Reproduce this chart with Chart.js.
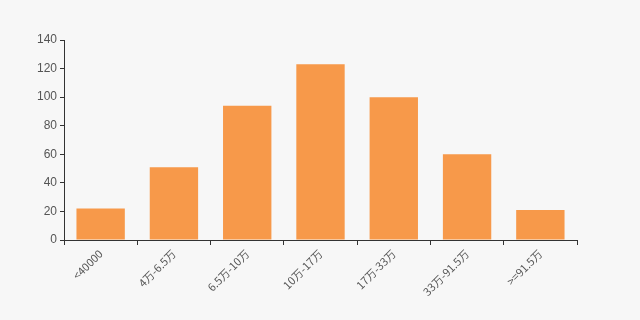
<!DOCTYPE html>
<html>
<head>
<meta charset="utf-8">
<script src="https://cdn.jsdelivr.net/npm/chart.js@4/dist/chart.umd.min.js"></script>
<style>
  html, body { margin: 0; padding: 0; background: #f7f7f7; }
  #wrap { width: 640px; height: 320px; }
</style>
</head>
<body>
<div id="wrap"><canvas id="c" width="640" height="320"></canvas></div>
<script>
// 收入区间分布
const categories = ['<40000', '4万-6.5万', '6.5万-10万', '10万-17万', '17万-33万', '33万-91.5万', '>=91.5万'];
const counts = [22, 51, 94, 123, 100, 60, 21];
const yTicks = [0, 20, 40, 60, 80, 100, 120, 140];

const bgPlugin = {
    id: 'bg',
    beforeDraw(chart) {
        const ctx = chart.ctx;
        ctx.save();
        ctx.fillStyle = '#f7f7f7';
        ctx.fillRect(0, 0, chart.width, chart.height);
        ctx.restore();
    }
};

new Chart(document.getElementById('c'), {
    type: 'bar',
    data: {
        labels: categories,
        datasets: [{
            data: counts,
            backgroundColor: '#f7994a',
            barPercentage: 0.66,
            categoryPercentage: 1
        }]
    },
    options: {
        responsive: false,
        animation: false,
        layout: { padding: { top: 40, right: 63, left: 0, bottom: 0 } },
        plugins: { legend: { display: false }, tooltip: { enabled: false } },
        scales: {
            x: {
                afterFit: (s) => { s.height = 80; },
                grid: { display: true, drawOnChartArea: false, drawTicks: true, tickLength: 5, color: '#333', offset: true },
                border: { display: true, color: '#333' },
                ticks: {
                    maxRotation: 45, minRotation: 45, autoSkip: false,
                    color: '#555', font: { family: 'Noto Sans CJK SC', size: 11 }, padding: 2
                }
            },
            y: {
                min: 0, max: 140,
                afterFit: (s) => { s.width = 64; },
                afterBuildTicks: (s) => { s.ticks = yTicks.map(v => ({ value: v })); },
                grid: { display: true, drawOnChartArea: false, drawTicks: true, tickLength: 4, color: '#333' },
                border: { display: true, color: '#333' },
                ticks: { color: '#555', font: { family: 'Liberation Sans', size: 12 }, padding: 3 }
            }
        }
    },
    plugins: [bgPlugin]
});
</script>
</body>
</html>
